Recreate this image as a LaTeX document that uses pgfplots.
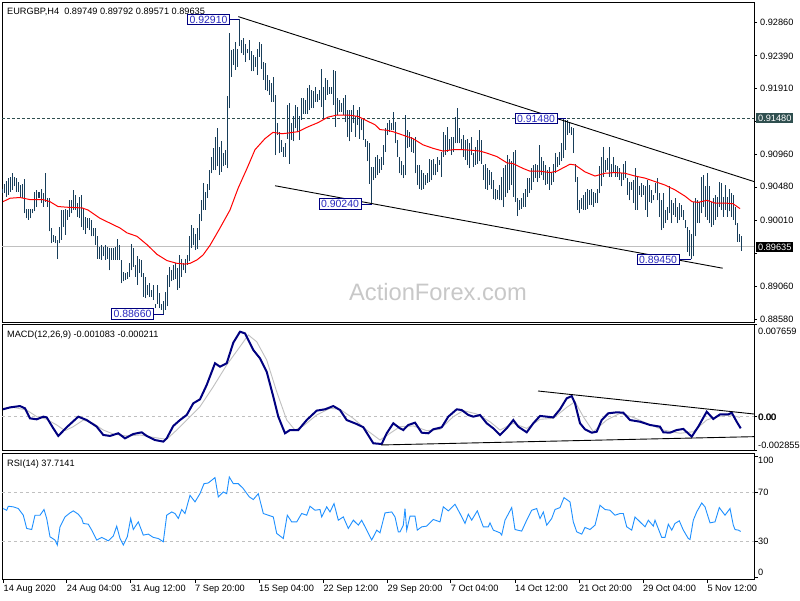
\documentclass[border=0pt]{standalone}
\usepackage{pgfplots}
\pgfplotsset{compat=1.18}
\usepackage{pgfplotstable}
\usepackage{fontspec}
\setmainfont{Liberation Sans}
\definecolor{barcol}{RGB}{24,62,90}
\definecolor{lblblue}{RGB}{40,40,190}
\definecolor{navyb}{RGB}{0,0,128}
\definecolor{dslate}{RGB}{47,79,79}
\definecolor{silv}{RGB}{192,192,192}
\definecolor{wm}{RGB}{200,200,200}
\definecolor{rsiblue}{RGB}{30,144,255}
\newcommand\f{\fontsize{9.2pt}{11pt}\selectfont}

\pgfplotstableread{
t hi lo
3 0.9047 0.9040
5 0.9054 0.9041
7 0.9058 0.9035
9 0.9062 0.9038
11 0.9064 0.9042
13 0.9070 0.9045
15 0.9064 0.9050
17 0.9062 0.9042
19 0.9057 0.9042
21 0.9052 0.9035
23 0.9054 0.9033
25 0.9060 0.9011
27 0.9018 0.9004
29 0.9018 0.9002
31 0.9017 0.9004
33 0.9018 0.9011
35 0.9042 0.9014
37 0.9045 0.9021
39 0.9042 0.9033
41 0.9046 0.9026
43 0.9040 0.9021
45 0.9069 0.9028
47 0.9033 0.9021
49 0.9033 0.8985
51 0.8990 0.8968
53 0.8980 0.8970
55 0.8978 0.8968
57 0.8973 0.8945
59 0.8992 0.8968
61 0.9016 0.8973
63 0.9016 0.8992
65 0.9017 0.8980
67 0.9016 0.9002
69 0.9030 0.9006
71 0.9030 0.9011
73 0.9045 0.9016
75 0.9038 0.9016
77 0.9026 0.9006
79 0.9035 0.9004
81 0.9038 0.8992
83 0.9018 0.8987
85 0.9006 0.8982
87 0.9004 0.8990
89 0.9004 0.8987
91 0.9002 0.8978
93 0.8990 0.8978
95 0.8990 0.8966
97 0.8978 0.8946
99 0.8963 0.8946
101 0.8966 0.8944
103 0.8963 0.8949
105 0.8966 0.8944
107 0.8963 0.8946
109 0.8961 0.8929
111 0.8961 0.8944
113 0.8961 0.8944
115 0.8963 0.8944
117 0.8974 0.8944
119 0.8966 0.8944
121 0.8944 0.8910
123 0.8927 0.8913
125 0.8925 0.8915
127 0.8927 0.8917
129 0.8939 0.8920
131 0.8967 0.8929
133 0.8961 0.8934
135 0.8937 0.8920
137 0.8949 0.8908
139 0.8946 0.8925
141 0.8944 0.8920
143 0.8925 0.8891
145 0.8920 0.8889
147 0.8908 0.8893
149 0.8910 0.8891
151 0.8901 0.8891
153 0.8908 0.8886
155 0.8881 0.8874
157 0.8908 0.8881
159 0.8896 0.8874
161 0.8881 0.8872
163 0.8884 0.8866
165 0.8898 0.8872
167 0.8922 0.8877
169 0.8934 0.8905
171 0.8929 0.8913
173 0.8937 0.8915
175 0.8939 0.8917
177 0.8932 0.8901
179 0.8951 0.8903
181 0.8946 0.8920
183 0.8939 0.8929
185 0.8946 0.8925
187 0.8951 0.8937
189 0.8978 0.8942
191 0.8994 0.8961
193 0.8990 0.8965
195 0.8982 0.8958
197 0.8990 0.8960
199 0.9010 0.8972
201 0.9030 0.9000
203 0.9055 0.9016
205 0.9042 0.9016
207 0.9054 0.9033
209 0.9074 0.9045
211 0.9093 0.9069
213 0.9105 0.9074
215 0.9122 0.9074
217 0.9134 0.9079
219 0.9107 0.9067
221 0.9115 0.9071
223 0.9098 0.9079
225 0.9103 0.9081
227 0.9180 0.9076
229 0.9271 0.9163
231 0.9247 0.9208
233 0.9249 0.9225
235 0.9259 0.9218
237 0.9249 0.9223
239 0.9291 0.9252
241 0.9261 0.9242
243 0.9264 0.9240
245 0.9256 0.9230
247 0.9249 0.9242
249 0.9261 0.9232
251 0.9245 0.9216
253 0.9240 0.9216
255 0.9237 0.9223
257 0.9249 0.9211
259 0.9259 0.9237
261 0.9256 0.9220
263 0.9230 0.9204
265 0.9228 0.9189
267 0.9211 0.9187
269 0.9204 0.9182
271 0.9199 0.9172
273 0.9208 0.9172
275 0.9182 0.9095
277 0.9141 0.9124
279 0.9129 0.9098
281 0.9117 0.9100
283 0.9107 0.9093
285 0.9112 0.9093
287 0.9168 0.9119
289 0.9170 0.9083
291 0.9141 0.9117
293 0.9151 0.9115
295 0.9168 0.9134
297 0.9165 0.9129
299 0.9151 0.9117
301 0.9177 0.9146
303 0.9177 0.9155
305 0.9175 0.9155
307 0.9192 0.9155
309 0.9196 0.9160
311 0.9189 0.9163
313 0.9187 0.9163
315 0.9194 0.9172
317 0.9184 0.9172
319 0.9189 0.9175
321 0.9220 0.9165
323 0.9194 0.9148
325 0.9206 0.9175
327 0.9204 0.9182
329 0.9194 0.9184
331 0.9194 0.9184
333 0.9218 0.9168
335 0.9216 0.9136
337 0.9177 0.9153
339 0.9175 0.9158
341 0.9170 0.9158
343 0.9177 0.9153
345 0.9182 0.9143
347 0.9160 0.9122
349 0.9160 0.9115
351 0.9160 0.9129
353 0.9168 0.9141
355 0.9151 0.9122
357 0.9160 0.9139
359 0.9165 0.9119
361 0.9148 0.9131
363 0.9148 0.9117
365 0.9119 0.9107
367 0.9115 0.9086
369 0.9112 0.9054
371 0.9078 0.9024
373 0.9078 0.9059
375 0.9093 0.9062
377 0.9095 0.9066
379 0.9090 0.9069
381 0.9093 0.9074
383 0.9110 0.9081
385 0.9134 0.9100
387 0.9141 0.9124
389 0.9146 0.9129
391 0.9141 0.9131
393 0.9158 0.9131
395 0.9143 0.9112
397 0.9117 0.9093
399 0.9093 0.9069
401 0.9086 0.9066
403 0.9081 0.9062
405 0.9153 0.9066
407 0.9131 0.9105
409 0.9129 0.9107
411 0.9122 0.9100
413 0.9119 0.9098
415 0.9122 0.9069
417 0.9081 0.9052
419 0.9081 0.9047
421 0.9074 0.9045
423 0.9069 0.9047
425 0.9066 0.9052
427 0.9069 0.9055
429 0.9090 0.9057
431 0.9088 0.9059
433 0.9090 0.9066
435 0.9083 0.9066
437 0.9093 0.9071
439 0.9088 0.9081
441 0.9100 0.9064
443 0.9129 0.9093
445 0.9124 0.9095
447 0.9136 0.9100
449 0.9119 0.9102
451 0.9122 0.9095
453 0.9122 0.9100
455 0.9150 0.9112
457 0.9163 0.9112
459 0.9134 0.9112
461 0.9119 0.9102
463 0.9124 0.9093
465 0.9117 0.9088
467 0.9119 0.9081
469 0.9112 0.9076
471 0.9122 0.9095
473 0.9098 0.9078
475 0.9107 0.9081
477 0.9117 0.9083
479 0.9131 0.9086
481 0.9117 0.9083
483 0.9081 0.9059
485 0.9083 0.9047
487 0.9076 0.9045
489 0.9074 0.9052
491 0.9071 0.9047
493 0.9059 0.9032
495 0.9047 0.9030
497 0.9045 0.9032
499 0.9052 0.9030
501 0.9064 0.9030
503 0.9076 0.9020
505 0.9081 0.9035
507 0.9095 0.9040
509 0.9090 0.9045
511 0.9086 0.9052
513 0.9100 0.9035
515 0.9102 0.9028
517 0.9033 0.9007
519 0.9030 0.9016
521 0.9033 0.9018
523 0.9040 0.9020
525 0.9047 0.9021
527 0.9062 0.9035
529 0.9062 0.9040
531 0.9076 0.9045
533 0.9081 0.9057
535 0.9083 0.9062
537 0.9081 0.9057
539 0.9110 0.9062
541 0.9093 0.9066
543 0.9086 0.9059
545 0.9081 0.9052
547 0.9074 0.9054
549 0.9078 0.9045
551 0.9071 0.9052
553 0.9083 0.9057
555 0.9098 0.9069
557 0.9093 0.9078
559 0.9100 0.9081
561 0.9112 0.9086
563 0.9148 0.9091
565 0.9146 0.9103
567 0.9146 0.9124
569 0.9141 0.9127
571 0.9136 0.9124
573 0.9134 0.9098
575 0.9083 0.9057
577 0.9064 0.9016
579 0.9030 0.9011
581 0.9033 0.9018
583 0.9038 0.9016
585 0.9042 0.9016
587 0.9047 0.9018
589 0.9045 0.9023
591 0.9047 0.9023
593 0.9042 0.9021
595 0.9040 0.9026
597 0.9047 0.9026
599 0.9079 0.9040
601 0.9093 0.9050
603 0.9107 0.9064
605 0.9088 0.9071
607 0.9091 0.9074
609 0.9107 0.9064
611 0.9083 0.9064
613 0.9093 0.9069
615 0.9081 0.9064
617 0.9079 0.9064
619 0.9076 0.9059
621 0.9069 0.9050
623 0.9083 0.9059
625 0.9086 0.9062
627 0.9062 0.9038
629 0.9057 0.9030
631 0.9057 0.9045
633 0.9059 0.9026
635 0.9076 0.9016
637 0.9064 0.9016
639 0.9050 0.9038
641 0.9055 0.9035
643 0.9052 0.9038
645 0.9050 0.9016
647 0.9059 0.9006
649 0.9052 0.9028
651 0.9045 0.9026
653 0.9038 0.9030
655 0.9055 0.9040
657 0.9062 0.9030
659 0.9040 0.9006
661 0.9030 0.8987
663 0.9040 0.8990
665 0.9016 0.8997
667 0.9021 0.9002
669 0.9050 0.9011
671 0.9030 0.8997
673 0.9026 0.9009
675 0.9033 0.9006
677 0.9021 0.8997
679 0.9026 0.9002
681 0.9023 0.9006
683 0.9016 0.9002
685 0.9002 0.8990
687 0.8992 0.8956
689 0.8987 0.8949
691 0.8982 0.8945
693 0.9028 0.8949
695 0.9033 0.8978
697 0.9030 0.8997
699 0.9028 0.8997
701 0.9064 0.9011
703 0.9067 0.9021
705 0.9050 0.9006
707 0.9069 0.9002
709 0.9050 0.8997
711 0.9028 0.8992
713 0.9033 0.8994
715 0.9038 0.9002
717 0.9035 0.9006
719 0.9057 0.9021
721 0.9055 0.9016
723 0.9035 0.9006
725 0.9052 0.9016
727 0.9035 0.9006
729 0.9047 0.9014
731 0.9040 0.9006
733 0.9038 0.9002
735 0.9021 0.8994
737 0.8997 0.8970
739 0.8982 0.8970
741 0.8979 0.8957
}\bars

\pgfplotstableread{
t v
3 0.9028
10 0.9033
20 0.9034
30 0.9031
43 0.9031
50 0.9028
58 0.9021
67 0.9020
82 0.9019
88 0.9016
100 0.9004
110 0.8997
120 0.8990
127 0.8983
137 0.8978
147 0.8966
157 0.8952
167 0.8943
177 0.8939
185 0.8938
190 0.8939
197 0.8944
203 0.8951
210 0.8965
220 0.8990
230 0.9016
238 0.9047
247 0.9076
255 0.9103
265 0.9119
273 0.9128
282 0.9126
288 0.9127
298 0.9129
308 0.9136
318 0.9142
328 0.9150
337 0.9153
348 0.9153
358 0.9151
365 0.9146
375 0.9139
380 0.9132
387 0.9131
393 0.9129
403 0.9124
413 0.9119
423 0.9110
433 0.9105
443 0.9101
453 0.9103
463 0.9103
473 0.9102
480 0.9101
487 0.9098
497 0.9093
507 0.9084
513 0.9083
523 0.9076
530 0.9072
540 0.9072
550 0.9070
557 0.9072
562 0.9076
570 0.9082
575 0.9081
585 0.9071
595 0.9065
605 0.9069
615 0.9070
625 0.9069
635 0.9065
645 0.9062
655 0.9057
665 0.9052
675 0.9045
685 0.9036
692 0.9028
698 0.9027
707 0.9030
715 0.9026
725 0.9026
733 0.9025
740 0.9018
}\ma

\pgfplotstableread{
t v
3 0.00058
10 0.00074
20 0.00085
25 0.00066
30 -0.00017
36.7 -0.00025
43.3 -0.00003
46.7 -0.00009
53.3 -0.00100
58.3 -0.00163
66.7 -0.00091
78.3 -0.00003
86.7 -0.00031
96.7 -0.00086
103.3 -0.00155
110 -0.00163
118.3 -0.00141
125 -0.00183
133.3 -0.00147
141.7 -0.00133
146.7 -0.00163
155 -0.00197
163.3 -0.00210
166.7 -0.00183
173.3 -0.00080
180 -0.00031
186.7 0.00011
193.3 0.00108
200 0.00141
206.7 0.00260
215 0.00440
220 0.00412
226.7 0.00440
233.3 0.00611
240 0.00702
245 0.00688
253.3 0.00550
260 0.00481
266.7 0.00370
273.3 0.00163
278.3 -0.00003
285 -0.00141
290 -0.00114
298.3 -0.00114
306.7 -0.00031
316.7 0.00047
325 0.00058
333.3 0.00085
340 0.00052
346.7 -0.00031
356.7 -0.00064
363.3 -0.00091
373.3 -0.00224
381.7 -0.00230
386.7 -0.00141
393.3 -0.00058
400 -0.00100
403.3 -0.00114
408.3 -0.00072
415 -0.00053
421.7 -0.00136
428.3 -0.00141
433.3 -0.00108
441.7 -0.00091
448.3 -0.00003
456.7 0.00058
461.7 0.00052
468.3 0.00011
473.3 -0.00003
480 0.00011
486.7 -0.00058
493.3 -0.00100
500 -0.00155
506.7 -0.00100
513.3 -0.00031
518.3 -0.00086
526.7 -0.00133
533.3 -0.00058
540 0.00003
546.7 -0.00003
553.3 -0.00009
560 0.00058
566.7 0.00149
571.7 0.00168
575 0.00108
580 -0.00058
585 -0.00108
591.7 -0.00136
596.7 -0.00128
601.7 -0.00031
608.3 0.00025
616.7 0.00033
623.3 0.00030
630 -0.00031
640 -0.00045
650 -0.00072
660 -0.00086
663.3 -0.00133
670 -0.00136
676.7 -0.00114
683.3 -0.00105
691.7 -0.00169
698.3 -0.00086
706.7 0.00038
713.3 -0.00022
720 0.00016
728.3 0.00016
731.7 0.00030
736.7 -0.00045
740.7 -0.00100
}\macd

\pgfplotstableread{
t v
3 0.00066
13.3 0.00074
26.7 0.00052
36.7 -0.00003
46.7 -0.00025
56.7 -0.00072
65 -0.00119
73.3 -0.00086
83.3 -0.00031
93.3 -0.00058
103.3 -0.00114
113.3 -0.00147
126.7 -0.00163
140 -0.00155
153.3 -0.00175
166.7 -0.00191
176.7 -0.00114
186.7 -0.00031
200 0.00080
213.3 0.00246
226.7 0.00426
240 0.00578
248.3 0.00675
256.7 0.00619
266.7 0.00467
276.7 0.00204
286.7 -0.00031
295 -0.00114
303.3 -0.00080
316.7 0.00011
330 0.00066
340 0.00058
353.3 -0.00017
366.7 -0.00114
380 -0.00197
390 -0.00141
400 -0.00086
413.3 -0.00080
426.7 -0.00119
440 -0.00108
453.3 -0.00003
463.3 0.00047
476.7 0.00019
490 -0.00045
500 -0.00114
513.3 -0.00058
526.7 -0.00100
540 -0.00025
553.3 -0.00017
566.7 0.00074
575 0.00121
583.3 -0.00003
593.3 -0.00128
606.7 -0.00031
620 0.00025
633.3 -0.00009
646.7 -0.00058
663.3 -0.00114
680 -0.00141
693.3 -0.00128
706.7 -0.00031
716.7 -0.00003
730 0.00011
740 -0.00009
}\sig

\pgfplotstableread{
t v
3.3 56.8
6.7 55.4
8.3 58.7
13.3 58.2
18.3 56.8
23.3 51.3
26.7 40.4
31.7 39.5
35 51.3
40 51.3
44 56.0
46.7 48.6
50 33.5
55 30.8
57.3 26.7
60 41.7
65 49.9
70 53.2
73.3 54.9
78.3 52.1
81.7 48.6
83.3 44.5
88.3 43.9
91.7 39.0
96.7 30.8
101.7 33.0
108.3 30.2
113.3 34.1
116.7 42.3
120 32.1
123.3 26.7
127.3 33.5
130.7 48.6
133.3 39.5
138.3 45.8
143.3 34.9
148.3 35.7
153.3 33.0
158.3 32.1
163.3 29.4
166.7 51.3
171.7 54.0
175 52.7
178.3 48.6
181.7 56.0
185 52.7
190 67.7
195 62.3
200 69.1
204 77.3
208.3 77.9
215 82.3
218.3 66.4
223.3 70.5
226.7 69.1
229.3 82.8
233.3 77.3
238.3 77.3
243.3 73.2
249.3 66.4
253.3 64.2
258.3 69.1
263.3 52.7
268.3 51.3
273.3 49.9
276.7 36.3
283.3 32.1
287.3 51.3
291.7 45.8
296.7 45.8
301.7 52.7
306.7 51.3
310 58.7
315 55.4
320 56.0
321.7 49.9
326.7 58.2
330 54.0
334 60.9
338.3 47.2
343.3 49.9
348.3 40.4
353.3 47.2
358.3 43.1
361.7 47.2
366.7 39.0
371.7 30.8
376.7 39.0
380 36.8
385 53.2
391.7 54.0
395 49.9
398.3 37.6
400 37.6
403.3 43.1
405 56.8
406.7 39.0
410 50.5
415 50.5
417.3 39.0
421.7 41.7
426.7 42.3
433.3 47.8
440 45.8
443.3 58.2
448.3 54.9
455 60.3
460 52.7
465 44.5
468.3 52.1
471.7 47.2
477.3 54.9
483.3 41.7
488.3 41.7
490 45.0
493.3 39.0
500 36.8
501.7 34.9
505 47.2
511.7 57.6
515 39.5
521.7 38.2
526.7 47.2
531.7 55.4
536.7 56.8
540 48.6
543.3 54.0
546.7 43.1
551.7 48.6
555 56.0
560 57.6
564 65.8
570 62.3
573.3 45.8
576.7 37.6
581.7 35.7
585 41.2
590 39.5
595 43.1
600 59.5
605 56.0
610 55.4
615 51.3
620 52.7
623.3 52.7
626.7 41.7
631.7 39.0
635 49.9
640 45.8
645 41.7
648.3 47.2
653.3 42.3
655 47.2
661.7 33.0
665 33.0
668.3 43.9
671.7 39.0
675 44.5
679.3 46.7
683.3 39.0
688.3 32.1
690 31.3
693.3 47.2
696.7 54.0
701.7 61.4
705 58.2
710 45.0
715 45.8
719.3 57.6
725 51.3
730 56.8
733.3 43.1
735 39.5
738.3 39.0
740.7 37.9
}\rsi

\begin{document}
\begin{tikzpicture}[x=1pt,y=1pt]
\useasboundingbox (0,0) rectangle (800,600);
\fill[white] (0,0) rectangle (800,600);
\node[text=wm, font=\fontsize{23.7pt}{26pt}\selectfont, anchor=base, inner sep=0] at (438,299.5) {ActionForex.com};

\pgfplotsset{panel/.style={scale only axis, width=752pt, xmin=2, xmax=754,
  axis line style={black, line width=0.9pt}, xtick=\empty, ytick pos=right,
  tick align=outside, major tick length=3pt, tick style={black, line width=0.8pt},
  yticklabels={}, xticklabels={}, scaled y ticks=false, scaled x ticks=false,
  clip=false, anchor=south west}}

% main price panel
\begin{axis}[panel, at={(2pt,278pt)}, height=320pt, ymin=0.88544, ymax=0.93161,
  ytick={0.8858,0.8906,0.8953,0.9001,0.9048,0.9096,0.9144,0.9191,0.9239,0.9286}]
\addplot[silv, line width=0.8pt, forget plot] coordinates {(2,0.89635) (754,0.89635)};
\addplot[dslate, line width=0.8pt, dash pattern=on 3pt off 2pt, forget plot] coordinates {(2,0.9148) (754,0.9148)};
\addplot[draw=none, mark=none, forget plot, error bars/.cd, y dir=plus, y explicit,
  error mark=none, error bar style={draw=barcol, line width=1pt}]
  table[x=t, y=lo, y error expr=\thisrow{hi}-\thisrow{lo}] {\bars};
\addplot[red, line width=1pt, forget plot] table[x=t, y=v] {\ma};
\addplot[black, line width=0.9pt, forget plot] coordinates {(238.3,0.9295) (754,0.9057)};
\addplot[black, line width=0.9pt, forget plot] coordinates {(275,0.9051) (722.7,0.8932)};
\addplot[navyb, line width=0.8pt, forget plot] coordinates {(230,0.9291) (239,0.9291)};
\addplot[navyb, line width=0.8pt, forget plot] coordinates {(154,0.8866) (164,0.8866)};
\addplot[navyb, line width=0.8pt, forget plot] coordinates {(361,0.9024) (372,0.9024)};
\addplot[navyb, line width=0.8pt, forget plot] coordinates {(557,0.9148) (566,0.9148)};
\addplot[navyb, line width=0.8pt, forget plot] coordinates {(679,0.8945) (691,0.8945)};
\tikzset{lbl/.style={draw=navyb, fill=white, text=lblblue, line width=0.8pt,
  font=\fontsize{10.5pt}{12pt}\selectfont, inner xsep=2pt, inner ysep=1.6pt}}
\node[lbl] at (axis cs:208.5,0.9291) {0.92910};
\node[lbl] at (axis cs:536,0.9148) {0.91480};
\node[lbl] at (axis cs:340,0.9025) {0.90240};
\node[lbl] at (axis cs:658,0.89445) {0.89450};
\node[lbl] at (axis cs:132.5,0.8866) {0.88660};
\end{axis}

% MACD panel
\begin{axis}[panel, at={(2pt,149.3pt)}, height=126.7pt, ymin=-0.002855, ymax=0.007659,
  ytick={-0.002855,0,0.007659}]
\addplot[silv, line width=0.8pt, dash pattern=on 3pt off 3pt, forget plot] coordinates {(2,0) (754,0)};
\addplot[silv, line width=0.9pt, forget plot] table[x=t, y=v] {\sig};
\addplot[navyb, line width=2pt, forget plot] table[x=t, y=v] {\macd};
\addplot[black, line width=0.9pt, forget plot] coordinates {(381,-0.00238) (754,-0.00169)};
\addplot[black, line width=0.9pt, forget plot] coordinates {(538,0.00210) (754,0.00019)};
\end{axis}

% RSI panel
\begin{axis}[panel, at={(2pt,21pt)}, height=126pt, ymin=-1.3, ymax=102.6,
  ytick={0,30,70,100},
  xtick={3,66.7,130.7,195,259,323.3,387.5,450.7,515,579,643,707.3}, xtick pos=left,
  major tick length=3.5pt]
\addplot[silv, line width=0.8pt, dash pattern=on 3pt off 3pt, forget plot] coordinates {(2,30) (754,30)};
\addplot[silv, line width=0.8pt, dash pattern=on 3pt off 3pt, forget plot] coordinates {(2,70) (754,70)};
\addplot[rsiblue, line width=0.9pt, forget plot] table[x=t, y=v] {\rsi};
\end{axis}

% panel titles
\node[anchor=base west, font=\f, inner sep=0] at (7,585.5) {EURGBP,H4\ \ 0.89749 0.89792 0.89571 0.89635};
\node[anchor=base west, font=\f, inner sep=0] at (7,262.5) {MACD(12,26,9) -0.001083 -0.000211};
\node[anchor=base west, font=\f, inner sep=0] at (7,134) {RSI(14) 37.7141};

% price scale labels
\foreach \yy/\tt in {577.3/0.92860, 544/0.92390, 511.3/0.91910, 446/0.90960, 413.3/0.90480, 380/0.90010, 314/0.89060, 280.7/0.88580}
  {\node[anchor=west, font=\f, inner sep=0] at (760,\yy) {\tt};}
\node[anchor=west, font=\f, inner xsep=2pt, inner ysep=1.5pt, fill=dslate, text=white] at (756,482) {0.91480};
\node[anchor=west, font=\f, inner xsep=2pt, inner ysep=1.5pt, fill=black, text=white] at (756,353) {0.89635};

% MACD scale labels
\node[anchor=west, font=\f, inner sep=0] at (758,269) {0.007659};
\node[anchor=west, font=\f, inner sep=0] at (758,183) {0.00};
\node[anchor=west, font=\f, inner sep=0] at (758.5,183) {0.00};
\node[anchor=west, font=\f, inner sep=0] at (758,155) {-0.002855};

% RSI scale labels
\node[anchor=west, font=\f, inner sep=0] at (758,139.3) {100};
\node[anchor=west, font=\f, inner sep=0] at (758,107.3) {70};
\node[anchor=west, font=\f, inner sep=0] at (758,59) {30};
\node[anchor=west, font=\f, inner sep=0] at (758,28) {0};

% time labels
\foreach \xx/\tt in {3.5/14 Aug 2020, 66.7/24 Aug 04:00, 130.7/31 Aug 12:00, 195/7 Sep 20:00, 259/15 Sep 04:00, 323.3/22 Sep 12:00, 387.5/29 Sep 20:00, 450.7/7 Oct 04:00, 515/14 Oct 12:00, 579/21 Oct 20:00, 643/29 Oct 04:00, 707.3/5 Nov 12:00}
  {\node[anchor=north west, font=\f, inner sep=0] at (\xx,15) {\tt};}
\end{tikzpicture}
\end{document}
